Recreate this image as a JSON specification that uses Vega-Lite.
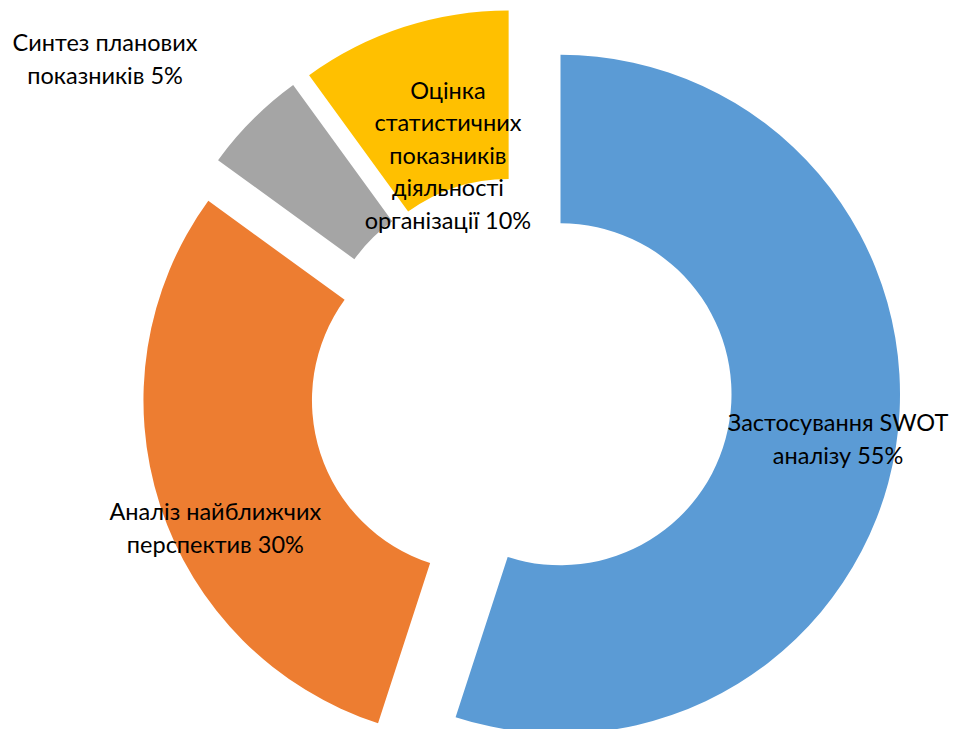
{
  "$schema": "https://vega.github.io/schema/vega-lite/v6.json",
  "width": 864,
  "height": 682,
  "autosize": {"type": "none"},
  "padding": {"left": 89, "top": 47, "right": 0, "bottom": 0},
  "background": "white",
  "view": {"stroke": null},
  "data": {
    "values": [
      {"category": "Застосування SWOT аналізу", "label": "Застосування SWOT\nаналізу  55%", "value": 55},
      {"category": "Аналіз найближчих перспектив", "label": "Аналіз найближчих\nперспектив 30%", "value": 30},
      {"category": "Синтез планових показників", "label": "Синтез планових\nпоказників 5%", "value": 5},
      {"category": "Оцінка статистичних показників діяльності організації", "label": "Оцінка\nстатистичних\nпоказників\nдіяльності\nорганізації 10%", "value": 10}
    ]
  },
  "transform": [{"window": [{"op": "row_number", "as": "idx"}]}],
  "encoding": {
    "theta": {"field": "value", "type": "quantitative", "stack": true},
    "order": {"field": "idx", "type": "quantitative"}
  },
  "layer": [
    {
      "mark": {
        "type": "arc",
        "outerRadius": 339.5,
        "innerRadius": 171,
        "xOffset": {"expr": "40*sin(PI*(datum.value_start+datum.value_end)/100)"},
        "yOffset": {"expr": "-40*cos(PI*(datum.value_start+datum.value_end)/100)"}
      },
      "encoding": {
        "color": {
          "field": "category",
          "type": "nominal",
          "scale": {
            "domain": ["Застосування SWOT аналізу", "Аналіз найближчих перспектив", "Синтез планових показників", "Оцінка статистичних показників діяльності організації"],
            "range": ["#5B9BD5", "#ED7D31", "#A5A5A5", "#FFC000"]
          },
          "legend": null
        }
      }
    },
    {
      "mark": {
        "type": "text",
        "font": "Lato",
        "fontSize": 23.5,
        "lineHeight": 32.5,
        "lineBreak": "\n",
        "color": "#000000",
        "align": "center",
        "baseline": "middle",
        "radius": {"expr": "[321,334,526,243][datum.idx-1]"},
        "dx": {"expr": "[0,12,-44,2][datum.idx-1]"},
        "dy": {"expr": "[-14,22,28,-65][datum.idx-1]"}
      },
      "encoding": {
        "detail": {"field": "category", "type": "nominal"},
        "text": {"field": "label", "type": "nominal"}
      }
    }
  ]
}
